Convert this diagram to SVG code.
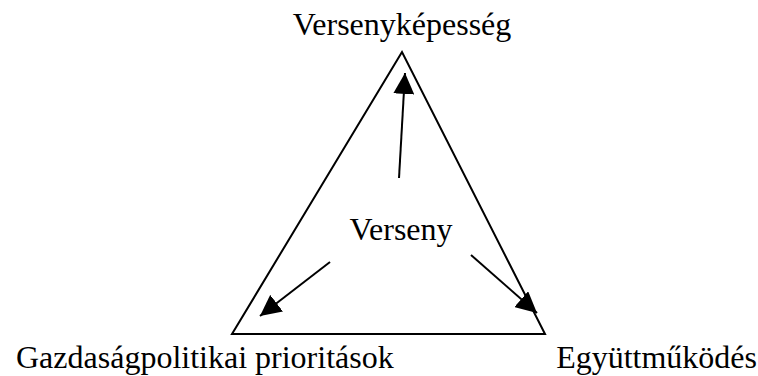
<svg xmlns="http://www.w3.org/2000/svg" width="758" height="376" viewBox="0 0 758 376">
<style>
text{font-family:"Liberation Serif","Times New Roman",serif;font-size:32px;fill:#000}
.edge{stroke:#000;stroke-width:2;fill:none}
</style>
<defs>
<marker id="arr" viewBox="0 0 20 20" refX="20" refY="10" markerWidth="21" markerHeight="21" markerUnits="userSpaceOnUse" orient="auto">
<path d="M0,0 L20,10 L0,20 Z" fill="#000"/>
</marker>
</defs>
<rect width="758" height="376" fill="#fff"/>
<g id="triangle">
<polygon points="402,52 232,334 545,334" fill="none" stroke="#000" stroke-width="2"/>
</g>
<g id="n-versenykepesseg"><text x="402" y="35" text-anchor="middle">Versenyképesség</text></g>
<g id="n-verseny"><text x="401" y="240" text-anchor="middle">Verseny</text></g>
<g id="n-gazdasag"><text x="16" y="368">Gazdaságpolitikai prioritások</text></g>
<g id="n-egyuttmukodes"><text x="757" y="368" text-anchor="end">Együttműködés</text></g>
<g id="connectors">
<line class="edge" x1="399" y1="178" x2="405" y2="73" marker-end="url(#arr)"/>
<line class="edge" x1="330" y1="262" x2="260" y2="316" marker-end="url(#arr)"/>
<line class="edge" x1="471" y1="255" x2="537" y2="313" marker-end="url(#arr)"/>
</g>
</svg>
